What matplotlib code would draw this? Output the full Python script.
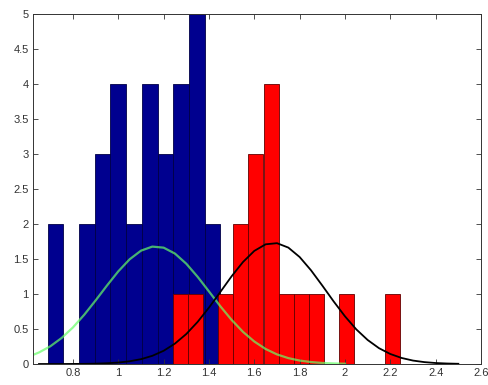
import matplotlib
matplotlib.use("Agg")
import matplotlib.pyplot as plt
from matplotlib.ticker import FuncFormatter

# histogram of the first group (blue), bin centres and counts
blue_centers = [0.723, 0.792, 0.861, 0.931, 1.000, 1.069,
                1.139, 1.208, 1.277, 1.346, 1.416]
blue_counts = [2, 0, 2, 3, 4, 2, 4, 3, 4, 5, 2]
blue_width = 0.0693

# histogram of the second group (red)
red_centers = [1.273, 1.340, 1.407, 1.473, 1.540, 1.607, 1.674, 1.741,
               1.808, 1.874, 1.941, 2.008, 2.075, 2.141, 2.208]
red_counts = [1, 1, 0, 1, 2, 3, 4, 1, 1, 1, 0, 1, 0, 0, 1]
red_width = 0.0668

# fitted curves, values
green_x = [0.62, 0.65, 0.70, 0.75, 0.80, 0.85, 0.90, 0.95, 1.00, 1.05,
           1.10, 1.15, 1.20, 1.25, 1.30, 1.35, 1.40, 1.45, 1.50, 1.55,
           1.60, 1.65, 1.70, 1.75, 1.80, 1.85, 1.90, 1.95, 2.00]
green_y = [0.125, 0.165, 0.253, 0.372, 0.523, 0.705, 0.909, 1.121, 1.324,
           1.496, 1.619, 1.677, 1.662, 1.577, 1.432, 1.245, 1.036, 0.825,
           0.629, 0.459, 0.321, 0.214, 0.137, 0.084, 0.049, 0.028, 0.015,
           0.008, 0.004]

black_x = [0.65, 0.70, 0.75, 0.80, 0.85, 0.90, 0.95, 1.00, 1.05, 1.10,
           1.15, 1.20, 1.25, 1.30, 1.35, 1.40, 1.45, 1.50, 1.55, 1.60,
           1.65, 1.70, 1.75, 1.80, 1.85, 1.90, 1.95, 2.00, 2.05, 2.10,
           2.15, 2.20, 2.25, 2.30, 2.35, 2.40, 2.45, 2.50]
black_y = [0.000, 0.000, 0.000, 0.001, 0.002, 0.005, 0.011, 0.021, 0.039,
           0.069, 0.117, 0.189, 0.292, 0.429, 0.602, 0.806, 1.029, 1.254,
           1.457, 1.616, 1.710, 1.726, 1.663, 1.528, 1.339, 1.120, 0.894,
           0.681, 0.494, 0.343, 0.226, 0.143, 0.086, 0.049, 0.027, 0.014,
           0.007, 0.003]

x_ticks = [0.8, 1.0, 1.2, 1.4, 1.6, 1.8, 2.0, 2.2, 2.4, 2.6]
y_ticks = [0, 0.5, 1, 1.5, 2, 2.5, 3, 3.5, 4, 4.5, 5]

plt.rcParams['font.family'] = ['Liberation Sans', 'DejaVu Sans']

fig = plt.figure(figsize=(4.89, 3.85), dpi=100)
ax = fig.add_axes([33 / 489, 21 / 385, 448 / 489, 350 / 385])

# bars: blue first, red over it
ax.bar(blue_centers, blue_counts, width=blue_width, color='#00008f',
       edgecolor='#000045', linewidth=0.6)
ax.bar(red_centers, red_counts, width=red_width, color='#ff0000',
       edgecolor='#600000', linewidth=0.6)

# normal fits
ax.plot(green_x, green_y, color=(0.4, 1.0, 0.4), alpha=0.7, linewidth=1.6)
ax.plot(black_x, black_y, color='black', linewidth=1.3)

ax.set_xlim(0.6236, 2.6)
ax.set_ylim(0, 5)
ax.set_xticks(x_ticks)
ax.set_yticks(y_ticks)
ax.xaxis.set_major_formatter(FuncFormatter(lambda v, p: '%g' % round(v, 2)))
ax.yaxis.set_major_formatter(FuncFormatter(lambda v, p: '%g' % v))

# matlab style ticks on all sides
ax.tick_params(direction='in', top=True, right=True, length=3.5, width=0.6,
               labelsize=8, labelcolor='#333333', color='#333333', pad=3)
for side in ax.spines.values():
    side.set_linewidth(0.7)
    side.set_color('#333333')

fig.savefig('out.png', dpi=100)
